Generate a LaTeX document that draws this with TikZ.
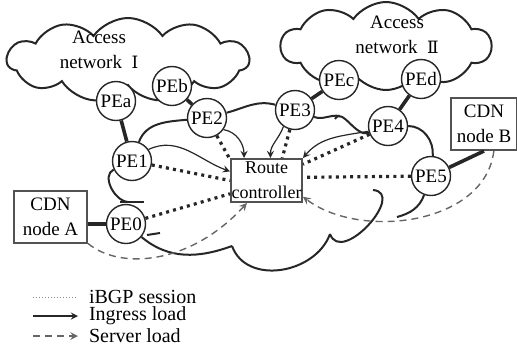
\documentclass[tikz,border=0pt]{standalone}
\usepackage{fontspec}
\setmainfont{Liberation Serif}
\newfontfamily\tms{Liberation Serif}
\newfontfamily\rmn{DejaVu Serif}
\usepackage{tikz}
\usetikzlibrary{calc,positioning,shapes.symbols,backgrounds}
\colorlet{ink}{black!85}

\begin{document}
\begin{tikzpicture}[x=0.5pt,y=-0.5pt,>=stealth,
    font=\tms\fontsize{9.5}{12.5}\selectfont,
    pe/.style={circle,draw=ink,line width=0.7pt,fill=white,inner sep=0pt,minimum size=19.5pt},
    box/.style={rectangle,draw=ink!80,line width=1pt,fill=white,align=center,inner sep=0pt},
    acc/.style={cloud,draw=ink,line width=1pt,cloud puff arc=110},
    rim/.style={draw=ink,line width=1pt},
    link/.style={draw=ink,line width=1.8pt},
    ibgp/.style={draw=ink,line width=1.6pt,dash pattern=on 1.5pt off 2.1pt},
    ingress/.style={draw=ink,line width=0.6pt,->},
    server/.style={draw=black!60,line width=0.7pt,dash pattern=on 3.5pt off 2.5pt,->}]
  \useasboundingbox (0,0) rectangle (517,349);

  % access networks
  \node[acc,cloud puffs=11,aspect=2.8,minimum width=121pt,minimum height=42pt] (accI) at (128,60) {};
  \node[acc,cloud puffs=10,aspect=2.3,minimum width=105pt,minimum height=44pt] (accII) at (386,46) {};
  \node[align=center] (txtI) at (99,50) {Access\\network\enspace{\rmn\fontsize{8.5}{12.5}\selectfont Ⅰ}};
  \node[align=center] (txtII) at (397,35) {Access\\network\enspace{\rmn\fontsize{8.5}{12.5}\selectfont Ⅱ}};

  % PE routers
  \node[pe] (PEa) at (116,101) {PEa};
  \node[pe] (PEb) at (172,86) {PEb};
  \node[pe] (PE1) at (132,161) {PE1};
  \node[pe] (PE2) at (207,118) {PE2};
  \node[pe] (PE0) at (126,224) {PE0};
  \node[pe] (PE3) at (295,110) {PE3};
  \node[pe] (PEc) at (339,80) {PEc};
  \node[pe] (PEd) at (421,79) {PEd};
  \node[pe] (PE4) at (388,126) {PE4};
  \node[pe] (PE5) at (431,176) {PE5};

  \node[box,minimum width=35.5pt,minimum height=21.5pt,font=\tms\fontsize{9}{12.5}\selectfont] (ctrl) at (266.5,180.5) {Route\\controller};
  \node[box,minimum width=36.5pt,minimum height=26pt] (cdnA) at (50.5,216.5) {CDN\\node A};
  \node[box,minimum width=33pt,minimum height=26pt] (cdnB) at (484,124) {CDN\\node B};

  % backbone cloud
  \coordinate (c1) at (340,116);
  \coordinate (c2) at (335,119);
  \coordinate (c3) at (397,217);
  \coordinate (c4) at (373,190);
  \coordinate (c5) at (330,234);
  \coordinate (c6) at (232,246);
  \coordinate (c7) at (128,202);
  \begin{scope}[on background layer]
    \draw[rim] (PE1) to[out=70,in=185] (PE2);
    \draw[rim] (PE2) to[out=15,in=165] (PE3);
    \draw[rim] (PE3) to[out=-20,in=170] (c1);
    \draw[rim] (c2) to[out=60,in=200] (PE4);
    \draw[rim] (PE4) to[out=0,in=85] (PE5);
    \draw[rim] (PE5) to[out=250,in=15] (c3);
    \draw[rim] (c4) to[out=-5,in=290,looseness=1.4] (c5);
    \draw[rim] (c5) to[out=250,in=-70,looseness=1.1] (c6);
    \draw[rim] (c6) to[out=200,in=-40] (PE0);
    \draw[rim] (PE1) to[out=205,in=175] (c7);
    \draw[rim] (120,202) -- (144,202);
    \draw[rim] (147,235) -- (160,233);
  \end{scope}

  % access links
  \draw[link] (PEa) -- (PE1);
  \draw[link] (PEb) -- (PE2);
  \draw[link] (PEc) -- (PE3);
  \draw[link] (PEd) -- (PE4);
  \draw[link] (PE5) -- (cdnB.south);
  \draw[link] (PE0.west) -- (PE0.west -| cdnA.east);

  % iBGP sessions
  \draw[ibgp] (PE0) -- (ctrl.200);
  \draw[ibgp] (PE1) -- (ctrl.180);
  \draw[ibgp] (PE2) -- (ctrl.150);
  \draw[ibgp] (PE3) -- (ctrl.55);
  \draw[ibgp] (PE4) -- (ctrl.24);
  \draw[ibgp] (PE5) -- (ctrl.5);

  % ingress load
  \draw[ingress] (PE1.35) to[out=25,in=160] (ctrl.166);
  \draw[ingress] (PE2.-35) to[out=-10,in=90] (ctrl.135);
  \draw[ingress] (PE3.235) to[out=250,in=90] (ctrl.80);
  \draw[ingress] (PE4.195) to[out=190,in=50] (ctrl.north east);

  % server load
  \draw[server] (cdnA.south east) .. controls (120,270) and (190,265) .. (ctrl.229);
  \draw[server] (cdnB.290) .. controls (485,225) and (360,240) .. (ctrl.-24);

  % legend
  \draw[black!45,line width=0.5pt,densely dotted] (33,297) -- (78,297);
  \node[anchor=west,font=\tms\fontsize{10}{12}\selectfont] (lgA) at (82,297) {iBGP session};
  \draw[ink,line width=0.6pt,->] (33,316) -- (78,316);
  \node[anchor=west,font=\tms\fontsize{10}{12}\selectfont] (lgB) at (82,316) {Ingress load};
  \draw[black!60,line width=0.7pt,dash pattern=on 3.5pt off 2.5pt,->] (33,336) -- (78,336);
  \node[anchor=west,font=\tms\fontsize{10}{12}\selectfont] (lgC) at (82,336) {Server load};
\end{tikzpicture}
\end{document}
